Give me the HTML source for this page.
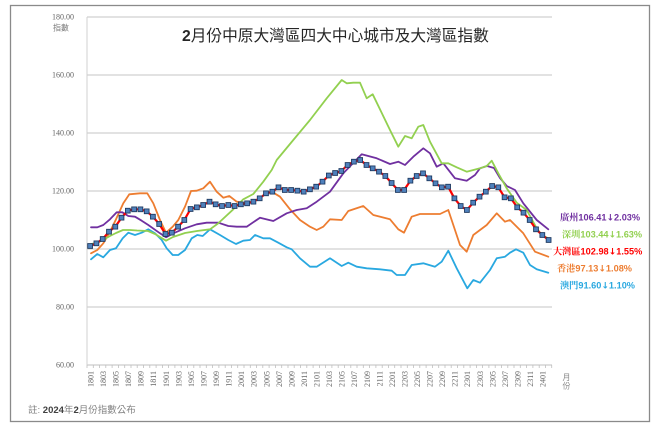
<!DOCTYPE html>
<html><head><meta charset="utf-8"><style>
html,body{margin:0;padding:0;background:#fff;}
svg{display:block;}
</style></head><body>
<svg width="660" height="430" viewBox="0 0 660 430" xmlns="http://www.w3.org/2000/svg">
<defs>
<marker id="sq" markerWidth="6" markerHeight="6" refX="3" refY="3" markerUnits="userSpaceOnUse">
<rect x="0.6" y="0.6" width="4.8" height="4.8" fill="#4F81BD" stroke="#1F3A60" stroke-width="0.9"/>
</marker>
</defs>
<rect x="0" y="0" width="660" height="430" fill="#fff"/>
<rect x="10.5" y="5.5" width="639" height="416" fill="none" stroke="#8a8a8a" stroke-width="1.3"/>

<g stroke="#d9d9d9" stroke-width="1.4">
<line x1="87" y1="17" x2="552" y2="17"/>
<line x1="87" y1="75" x2="552" y2="75"/>
<line x1="87" y1="133" x2="552" y2="133"/>
<line x1="87" y1="191" x2="552" y2="191"/>
<line x1="87" y1="249" x2="552" y2="249"/>
<line x1="87" y1="307" x2="552" y2="307"/>
</g>
<line x1="87" y1="365" x2="552" y2="365" stroke="#bfbfbf" stroke-width="1"/>
<line x1="87" y1="17" x2="87" y2="365" stroke="#d0d0d0" stroke-width="1"/>

<g font-family="Liberation Serif, serif" font-size="8" fill="#666" text-anchor="end">
<text x="74" y="19.5">180.00</text>
<text x="74" y="77.5">160.00</text>
<text x="74" y="135.5">140.00</text>
<text x="74" y="193.5">120.00</text>
<text x="74" y="251.5">100.00</text>
<text x="74" y="309.5">80.00</text>
<text x="74" y="367.5">60.00</text>
</g>
<text x="53" y="30.5" font-family="Liberation Sans, 'Noto Sans CJK TC', sans-serif" font-size="8" fill="#777">指數</text>

<text x="182" y="41" font-family="Liberation Sans, 'Noto Sans CJK TC', sans-serif" font-size="15.7" fill="#262626"><tspan font-weight="bold">2</tspan>月份中原大灣區四大中心城市及大灣區指數</text>

<g font-family="Liberation Sans, 'Noto Sans CJK TC', sans-serif" font-size="8" fill="#888">
<text x="562.5" y="380">月</text>
<text x="562.5" y="388.5">份</text>
</g>

<g fill="none" stroke-linejoin="round" stroke-linecap="round" stroke-width="1.8">
<polyline stroke="#29A8E0" points="91,259.3 97.3,254 103.3,257.3 110,250 116,248.3 122.7,238.3 128.3,232.7 135,235 141.7,232.7 148.3,229.3 155,233.3 161.7,240 166.7,248.3 172.7,255 178.3,255 185,250 191.7,238.3 197.3,235 202.7,236 210,229.3 220,235 228.3,240 236,244 243.3,240.7 250,240 255,235 263.3,238.3 270,238.3 278.3,242.7 286.7,247.3 291.7,249.3 300,258.3 310,266.7 316.7,266.7 330,258.3 341.7,266 348.3,262.7 356.7,266.7 366.7,268.3 380,269.3 391.7,270.7 396.7,275 405,275 411.7,265 423.3,263.3 435,266.7 441.7,261.7 448.3,250.7 456.7,268.3 467.3,288.3 473.3,280 480,282.7 490,270 496.7,258.3 505,256.7 510,252.7 516,249.3 523.3,252.7 530,265 536.7,269.3 548.3,272.7"/>
<polyline stroke="#ED7D31" points="91,253.3 97.3,250 103.3,243.3 110,231.7 116,219.3 123.3,203.3 129.3,194.3 140,193.3 147.3,193.3 153.3,203.3 160,220 166,232.7 172.7,226.7 178.3,220 185,206.7 191,191 196.7,190.7 203.3,188.3 210,181.7 216.7,191.7 223.3,197.7 229.3,196 236.7,201.7 246.7,203.3 256.7,200 266.7,193.3 271.7,191.7 280,196.7 290,209.3 300,220 310,226.7 316.7,230 323.3,226.7 330,219.3 341.7,220 348.3,211 363.3,206 373.3,215 390,219.3 398.3,229.3 404,232.7 411.7,216.7 420,214 440,214 448.3,210 460,245 466.7,251.7 473.3,235 486.7,225 496.7,213.3 505,221.7 510,220 523.3,233.3 535,251.7 548.3,256.7"/>
<polyline stroke="#7030A0" points="91,227.3 97.3,227.3 103.3,225 110,219.3 116.7,212.3 122.3,212.3 128.3,216 135,216.7 141.7,220.7 148.3,225 160,233.3 166,237.3 173.3,233.3 185,228.3 196.7,224.3 206.7,222.7 218.3,222.7 228.3,226 236.7,226.7 246.7,226.7 260,217.7 273.3,221 286.7,213.3 296.7,210 306.7,208.3 316.7,201.7 330,191.7 343.3,173.3 361.7,154.3 376.7,158.3 390,164 398.3,161.7 405,165 413.3,156.7 423.3,148.3 430,153.3 436.7,166.7 443.3,163.3 455,178.3 466.7,180.7 475,175 480,168.3 487,166 494,168 500,178 506.7,186 515,190 523.3,203.3 536.7,220 548.3,229.3"/>
<polyline stroke="#92D050" points="91,244 97,243 103,240 110,236 116,233 123,230 130,230 137,230.5 148,231 155,234 160,237 166,240.7 173,237 185,233 197,231 210,229.3 218,223.5 233.3,209.3 243.3,199.3 253.3,194 263.3,181.7 271.7,170 276.7,160 293.3,140 310,120 326.7,98.3 341.7,80 346.7,83.3 353.3,82.7 360,82.7 366.7,98.3 372.7,94.3 390,130 398.3,146.7 405,136 411.7,138.3 418.3,126.7 423.3,125 430,141.7 441.7,163.3 448.3,163.3 456.7,167.3 466.7,171.7 480,168.3 486.7,166 491.7,160.7 498.3,173.3 506.7,188.3 516.7,202.7 526.7,210 536.7,228.3 541.7,235 548.3,238.3"/>
<polyline stroke="#FF0000" stroke-width="2.2" marker-start="url(#sq)" marker-mid="url(#sq)" marker-end="url(#sq)" points="90.1,246 96.4,243.3 102.7,239 109,231.7 115.3,226.7 121.5,217.7 127.8,210.7 134.1,209.3 140.4,209.3 146.7,211.3 152.9,216.7 159.2,224 165.5,234 171.8,232.7 178.1,226.7 184.3,220 190.6,209 196.9,207.3 203.2,205 209.5,201.7 215.7,204.3 222,206 228.3,205 234.6,206 240.9,204.3 247.1,203.3 253.4,201.7 259.7,198.3 266,193.3 272.3,191.7 278.5,187.3 284.8,190 291.1,190 297.4,190.7 303.7,191.7 309.9,189.3 316.2,186.7 322.5,181.7 328.8,175.5 335.1,173 341.3,171 347.6,165 353.9,161.7 360.2,160 366.5,165 372.7,168.3 379,171.7 385.3,176 391.6,183 397.9,190 404.1,190 410.4,180.7 416.7,176 423,173.3 429.3,178.3 435.5,183.3 441.8,187.3 448.1,186.7 454.4,198.3 460.7,206 466.9,210 473.2,202.7 479.5,196.7 485.8,191.7 492.1,186 498.3,187.3 504.6,197.3 510.9,198.3 517.2,207.3 523.5,212.7 529.7,220 536,229.3 542.3,235 548.6,240"/>
</g>

<g font-family="Liberation Sans, 'Noto Serif CJK TC', 'Noto Sans CJK TC', sans-serif" font-size="9.2" font-weight="bold">
<text x="560" y="220.5" fill="#7030A0">廣州106.41<tspan font-family="DejaVu Sans, sans-serif" font-size="9">↓</tspan>2.03%</text>
<text x="562" y="237.5" fill="#92D050">深圳103.44<tspan font-family="DejaVu Sans, sans-serif" font-size="9">↓</tspan>1.63%</text>
<text x="553" y="254.5" fill="#FF0000">大灣區102.98<tspan font-family="DejaVu Sans, sans-serif" font-size="9">↓</tspan>1.55%</text>
<text x="557" y="271.5" fill="#ED7D31">香港97.13<tspan font-family="DejaVu Sans, sans-serif" font-size="9">↓</tspan>1.08%</text>
<text x="560" y="288.5" fill="#29A8E0">澳門91.60<tspan font-family="DejaVu Sans, sans-serif" font-size="9">↓</tspan>1.10%</text>
</g>

<text x="28" y="413" font-family="Liberation Sans, 'Noto Sans CJK TC', sans-serif" font-size="9.5" fill="#808080">註: <tspan font-weight="bold" fill="#404040">2024</tspan>年<tspan font-weight="bold" fill="#404040">2</tspan>月份指數公布</text>

<g font-family="Liberation Serif, serif" font-size="8" fill="#666" text-anchor="end">
<text transform="translate(90.1,371) rotate(-90)" y="3.3">1801</text>
<text transform="translate(102.7,371) rotate(-90)" y="3.3">1803</text>
<text transform="translate(115.3,371) rotate(-90)" y="3.3">1805</text>
<text transform="translate(127.8,371) rotate(-90)" y="3.3">1807</text>
<text transform="translate(140.4,371) rotate(-90)" y="3.3">1809</text>
<text transform="translate(152.9,371) rotate(-90)" y="3.3">1811</text>
<text transform="translate(165.5,371) rotate(-90)" y="3.3">1901</text>
<text transform="translate(178.1,371) rotate(-90)" y="3.3">1903</text>
<text transform="translate(190.6,371) rotate(-90)" y="3.3">1905</text>
<text transform="translate(203.2,371) rotate(-90)" y="3.3">1907</text>
<text transform="translate(215.7,371) rotate(-90)" y="3.3">1909</text>
<text transform="translate(228.3,371) rotate(-90)" y="3.3">1911</text>
<text transform="translate(240.9,371) rotate(-90)" y="3.3">2001</text>
<text transform="translate(253.4,371) rotate(-90)" y="3.3">2003</text>
<text transform="translate(266,371) rotate(-90)" y="3.3">2005</text>
<text transform="translate(278.5,371) rotate(-90)" y="3.3">2007</text>
<text transform="translate(291.1,371) rotate(-90)" y="3.3">2009</text>
<text transform="translate(303.7,371) rotate(-90)" y="3.3">2011</text>
<text transform="translate(316.2,371) rotate(-90)" y="3.3">2101</text>
<text transform="translate(328.8,371) rotate(-90)" y="3.3">2103</text>
<text transform="translate(341.3,371) rotate(-90)" y="3.3">2105</text>
<text transform="translate(353.9,371) rotate(-90)" y="3.3">2107</text>
<text transform="translate(366.5,371) rotate(-90)" y="3.3">2109</text>
<text transform="translate(379,371) rotate(-90)" y="3.3">2111</text>
<text transform="translate(391.6,371) rotate(-90)" y="3.3">2201</text>
<text transform="translate(404.1,371) rotate(-90)" y="3.3">2203</text>
<text transform="translate(416.7,371) rotate(-90)" y="3.3">2205</text>
<text transform="translate(429.3,371) rotate(-90)" y="3.3">2207</text>
<text transform="translate(441.8,371) rotate(-90)" y="3.3">2209</text>
<text transform="translate(454.4,371) rotate(-90)" y="3.3">2211</text>
<text transform="translate(466.9,371) rotate(-90)" y="3.3">2301</text>
<text transform="translate(479.5,371) rotate(-90)" y="3.3">2303</text>
<text transform="translate(492.1,371) rotate(-90)" y="3.3">2305</text>
<text transform="translate(504.6,371) rotate(-90)" y="3.3">2307</text>
<text transform="translate(517.2,371) rotate(-90)" y="3.3">2309</text>
<text transform="translate(529.7,371) rotate(-90)" y="3.3">2311</text>
<text transform="translate(542.3,371) rotate(-90)" y="3.3">2401</text>
</g>

<path stroke="#bfbfbf" stroke-width="0.8" fill="none" d="M87,365v3 M93.3,365v3 M99.6,365v3 M105.8,365v3 M112.1,365v3 M118.4,365v3 M124.7,365v3 M131,365v3 M137.2,365v3 M143.5,365v3 M149.8,365v3 M156.1,365v3 M162.4,365v3 M168.6,365v3 M174.9,365v3 M181.2,365v3 M187.5,365v3 M193.8,365v3 M200,365v3 M206.3,365v3 M212.6,365v3 M218.9,365v3 M225.2,365v3 M231.4,365v3 M237.7,365v3 M244,365v3 M250.3,365v3 M256.6,365v3 M262.8,365v3 M269.1,365v3 M275.4,365v3 M281.7,365v3 M288,365v3 M294.2,365v3 M300.5,365v3 M306.8,365v3 M313.1,365v3 M319.4,365v3 M325.6,365v3 M331.9,365v3 M338.2,365v3 M344.5,365v3 M350.8,365v3 M357,365v3 M363.3,365v3 M369.6,365v3 M375.9,365v3 M382.2,365v3 M388.4,365v3 M394.7,365v3 M401,365v3 M407.3,365v3 M413.6,365v3 M419.8,365v3 M426.1,365v3 M432.4,365v3 M438.7,365v3 M445,365v3 M451.2,365v3 M457.5,365v3 M463.8,365v3 M470.1,365v3 M476.4,365v3 M482.6,365v3 M488.9,365v3 M495.2,365v3 M501.5,365v3 M507.8,365v3 M514,365v3 M520.3,365v3 M526.6,365v3 M532.9,365v3 M539.2,365v3 M545.4,365v3 M551.7,365v3"/>
</svg>
</body></html>
